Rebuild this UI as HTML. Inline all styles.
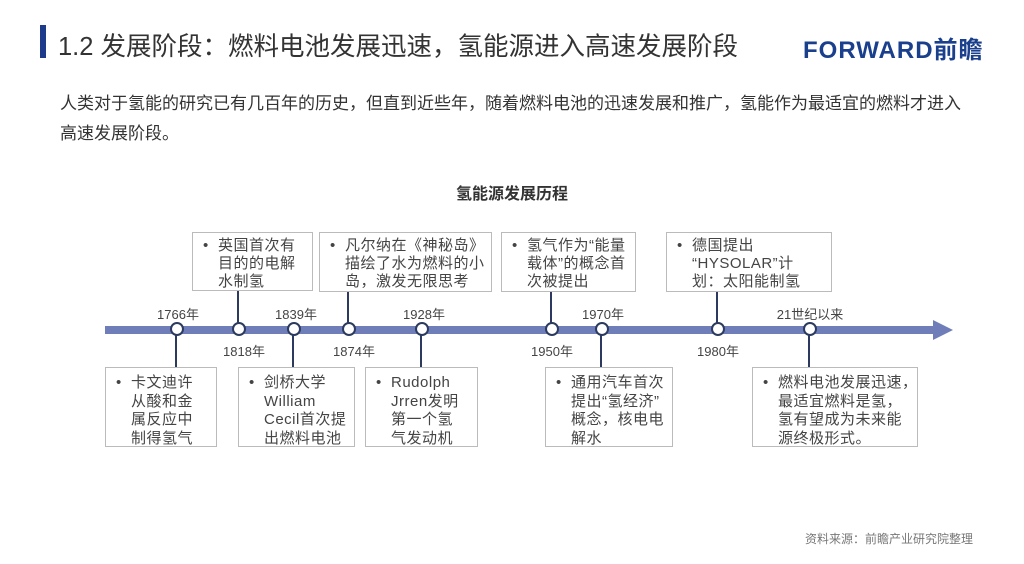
<!DOCTYPE html>
<html><head><meta charset="utf-8"><style>
body{margin:0;width:1024px;height:564px;background:#fff;position:relative;overflow:hidden;font-family:"Liberation Sans","Noto Sans CJK SC",sans-serif;color:#333}
.a{position:absolute;white-space:nowrap}
.box{position:absolute;border:1.5px solid #bbb;background:#fff;box-sizing:border-box;font-size:15px;line-height:18px;color:#444;padding:4px 2px 0 10px;white-space:nowrap;letter-spacing:0.5px;overflow:hidden}
.bot{padding-top:6px;line-height:18.5px}
.box .b{position:absolute;left:10px}
.box .t{margin-left:15px;display:block}
.yr{position:absolute;font-size:13px;color:#444;transform:translateX(-50%);white-space:nowrap}
.vl{position:absolute;width:2px;background:#2b3a5e}
.c{position:absolute;width:10px;height:10px;border:2px solid #2b3a5e;border-radius:50%;background:#fff;top:322px}
</style></head><body>
<div class="a" style="left:40px;top:25px;width:6px;height:33px;background:#1e3a8a"></div>
<div class="a" style="left:58px;top:26px;font-size:25.5px;color:#333">1.2 发展阶段：燃料电池发展迅速，氢能源进入高速发展阶段</div>
<div class="a" style="left:803px;top:30px;font-size:24px;font-weight:bold;color:#1a3f8c;letter-spacing:1px">FORWARD前瞻</div>
<div class="a" style="left:60px;top:89px;font-size:17px;color:#333">人类对于氢能的研究已有几百年的历史，但直到近些年，随着燃料电池的迅速发展和推广，氢能作为最适宜的燃料才进入</div>
<div class="a" style="left:60px;top:119px;font-size:17px;color:#333">高速发展阶段。</div>
<div class="a" style="left:512px;top:180px;transform:translateX(-50%);font-size:16px;font-weight:bold;color:#333">氢能源发展历程</div>
<div class="a" style="left:805px;top:530px;font-size:12px;color:#777">资料来源：前瞻产业研究院整理</div>

<svg class="a" style="left:0;top:0" width="1024" height="564">
<rect x="105" y="326" width="830" height="8" fill="#6f7eb8"/>
<polygon points="933,320 953,330 933,340" fill="#6f7eb8"/>
</svg>

<div class="vl" style="left:175px;top:330px;height:37px"></div>
<div class="vl" style="left:237px;top:290px;height:40px"></div>
<div class="vl" style="left:292px;top:330px;height:37px"></div>
<div class="vl" style="left:347px;top:292px;height:38px"></div>
<div class="vl" style="left:420px;top:330px;height:37px"></div>
<div class="vl" style="left:550px;top:292px;height:38px"></div>
<div class="vl" style="left:600px;top:330px;height:37px"></div>
<div class="vl" style="left:716px;top:292px;height:38px"></div>
<div class="vl" style="left:808px;top:330px;height:37px"></div>

<div class="c" style="left:170px"></div>
<div class="c" style="left:232px"></div>
<div class="c" style="left:287px"></div>
<div class="c" style="left:342px"></div>
<div class="c" style="left:415px"></div>
<div class="c" style="left:545px"></div>
<div class="c" style="left:595px"></div>
<div class="c" style="left:711px"></div>
<div class="c" style="left:803px"></div>

<div class="yr" style="left:178px;top:304px">1766年</div>
<div class="yr" style="left:244px;top:341px">1818年</div>
<div class="yr" style="left:296px;top:304px">1839年</div>
<div class="yr" style="left:354px;top:341px">1874年</div>
<div class="yr" style="left:424px;top:304px">1928年</div>
<div class="yr" style="left:552px;top:341px">1950年</div>
<div class="yr" style="left:603px;top:304px">1970年</div>
<div class="yr" style="left:718px;top:341px">1980年</div>
<div class="yr" style="left:810px;top:304px">21世纪以来</div>

<div class="box" style="left:192px;top:232px;width:121px;height:59px"><span class="b">•</span><span class="t">英国首次有<br>目的的电解<br>水制氢</span></div>
<div class="box" style="left:319px;top:232px;width:173px;height:60px"><span class="b">•</span><span class="t">凡尔纳在《神秘岛》<br>描绘了水为燃料的小<br>岛，激发无限思考</span></div>
<div class="box" style="left:501px;top:232px;width:135px;height:60px"><span class="b">•</span><span class="t">氢气作为“能量<br>载体”的概念首<br>次被提出</span></div>
<div class="box" style="left:666px;top:232px;width:166px;height:60px"><span class="b">•</span><span class="t">德国提出<br>“HYSOLAR”计<br>划：太阳能制氢</span></div>

<div class="box bot" style="left:105px;top:367px;width:112px;height:80px"><span class="b">•</span><span class="t">卡文迪许<br>从酸和金<br>属反应中<br>制得氢气</span></div>
<div class="box bot" style="left:238px;top:367px;width:117px;height:80px"><span class="b">•</span><span class="t">剑桥大学<br>William<br>Cecil首次提<br>出燃料电池</span></div>
<div class="box bot" style="left:365px;top:367px;width:113px;height:80px"><span class="b">•</span><span class="t">Rudolph<br>Jrren发明<br>第一个氢<br>气发动机</span></div>
<div class="box bot" style="left:545px;top:367px;width:128px;height:80px"><span class="b">•</span><span class="t">通用汽车首次<br>提出“氢经济”<br>概念，核电电<br>解水</span></div>
<div class="box bot" style="left:752px;top:367px;width:166px;height:80px"><span class="b">•</span><span class="t">燃料电池发展迅速，<br>最适宜燃料是氢，<br>氢有望成为未来能<br>源终极形式。</span></div>
</body></html>
